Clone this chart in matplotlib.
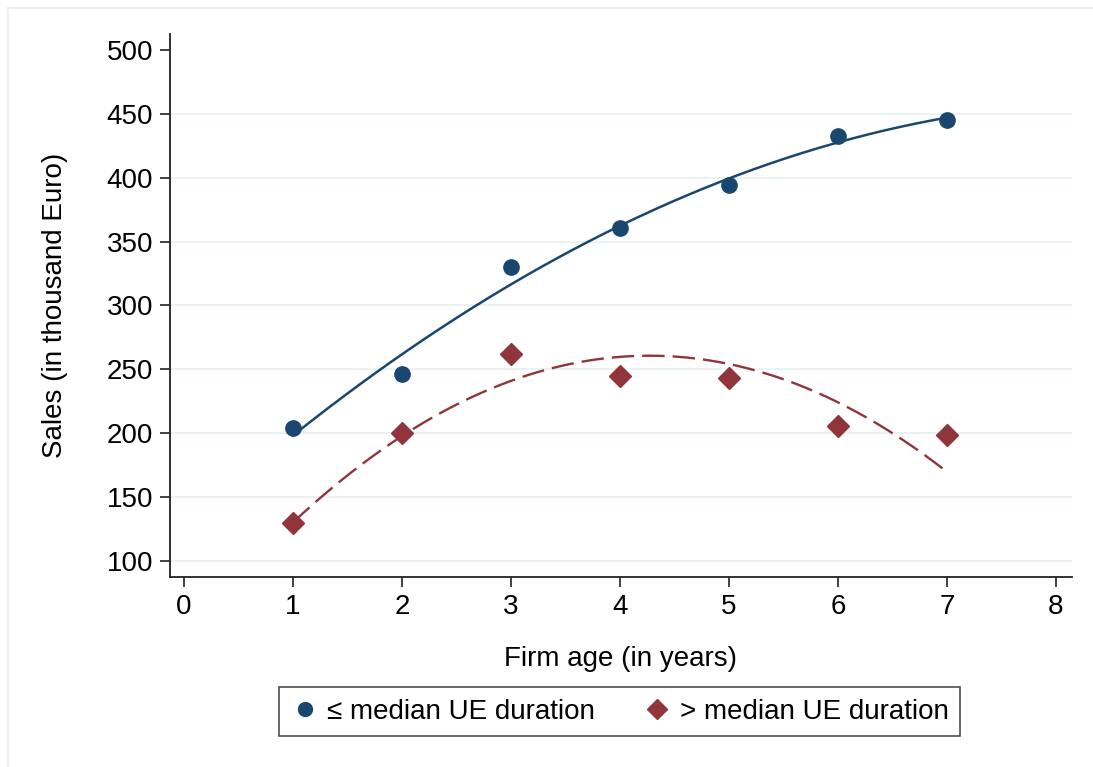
import numpy as np
import matplotlib
matplotlib.use('Agg')
import matplotlib.pyplot as plt
from matplotlib.lines import Line2D

plt.rcParams['font.family'] = ['Liberation Sans', 'DejaVu Sans']

# data
firm_age = [1, 2, 3, 4, 5, 6, 7]
sales_low = [204, 246, 330, 361, 394, 433, 445]   # <= median UE duration
sales_high = [130, 200, 262, 245, 243, 206, 199]  # > median UE duration
# fitted values of the dashed quadratic fit, read at each age
fit_high_read = [130, 198, 241, 260, 254, 224, 170]
y_ticks = [100, 150, 200, 250, 300, 350, 400, 450, 500]
x_ticks = [0, 1, 2, 3, 4, 5, 6, 7, 8]

BLUE = '#1a476f'
RED = '#90353b'
GRID = '#eaf2f3'

fig = plt.figure(figsize=(10.93, 7.67), dpi=100)
ax = fig.add_axes([0.1555, 0.2477, 0.8253, 0.7080])

# quadratic fits (like Stata qfit)
xs = np.linspace(min(firm_age), max(firm_age), 200)
fit_low = np.polyval(np.polyfit(firm_age, sales_low, 2), xs)
fit_high = np.polyval(np.polyfit(firm_age, fit_high_read, 2), xs)

for t in y_ticks[:-1]:
    ax.axhline(t, color=GRID, lw=1.5, zorder=0)

ax.plot(xs, fit_low, color=BLUE, lw=1.8, zorder=2)
ax.plot(xs, fit_high, color=RED, lw=1.7, linestyle=(0, (9.5, 3.4)), zorder=2)
ax.plot(firm_age, sales_low, 'o', color=BLUE, ms=11, zorder=3)
ax.plot(firm_age, sales_high, 'D', color=RED, ms=11, zorder=3)

ax.set_xlim(-0.128, 8.147)
ax.set_ylim(87.5, 512.5)
ax.set_xticks(x_ticks)
ax.set_yticks(y_ticks)
ax.tick_params(labelsize=20, length=7, width=1.2, color='#222222', pad=5)
for side in ['top', 'right']:
    ax.spines[side].set_visible(False)
for side in ['left', 'bottom']:
    ax.spines[side].set_linewidth(1.3)
    ax.spines[side].set_color('#222222')

ax.set_xlabel('Firm age (in years)', fontsize=20, labelpad=19)
ax.set_ylabel('Sales (in thousand Euro)', fontsize=20, labelpad=28)

handles = [
    Line2D([], [], marker='o', color=BLUE, ls='none', ms=10),
    Line2D([], [], marker='D', color=RED, ls='none', ms=10),
]
leg = fig.legend(handles, ['\u2264 median UE duration', '> median UE duration'],
                 loc='center', bbox_to_anchor=(0.567, 0.072), ncol=2,
                 fontsize=20, frameon=True, fancybox=False,
                 handletextpad=0.3, columnspacing=1.75, borderpad=0.42,
                 handlelength=1.0)
leg.get_frame().set_edgecolor('#222222')
leg.get_frame().set_linewidth(1.2)

# faint outer graph-region border (left and top)
fig.add_artist(Line2D([8 / 1093, 8 / 1093], [0, 1 - 8 / 767], color=GRID, lw=1.5))
fig.add_artist(Line2D([8 / 1093, 1], [1 - 8 / 767, 1 - 8 / 767], color=GRID, lw=1.5))

fig.savefig('out.png', dpi=100)
